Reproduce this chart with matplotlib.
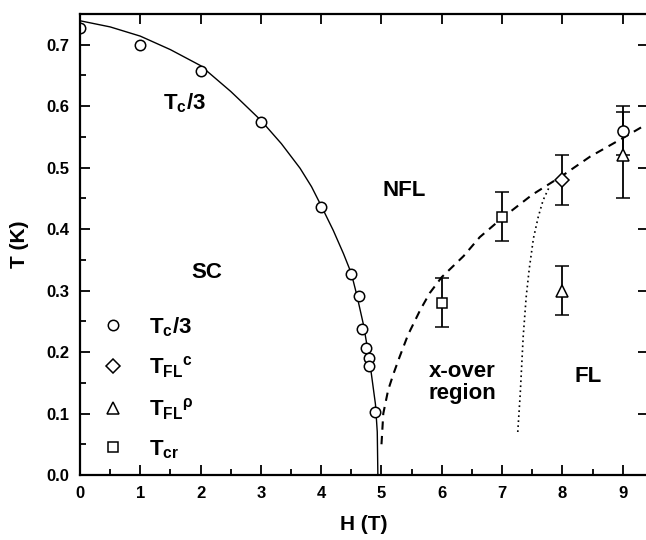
import matplotlib.pyplot as plt
from matplotlib.lines import Line2D
from matplotlib.ticker import MultipleLocator

plt.rcParams['font.family'] = ['Liberation Sans', 'DejaVu Sans']
plt.rcParams['font.weight'] = 'bold'
plt.rcParams['mathtext.fontset'] = 'custom'
plt.rcParams['mathtext.rm'] = 'Liberation Sans:bold'
plt.rcParams['mathtext.it'] = 'Liberation Sans:bold'
plt.rcParams['mathtext.bf'] = 'Liberation Sans:bold'

# Tc/3 points
tc_H = [0, 1, 2, 3, 4, 4.5, 4.62, 4.68, 4.74, 4.79, 4.80, 4.90]
tc_T = [0.728, 0.700, 0.657, 0.575, 0.436, 0.327, 0.291, 0.237, 0.207, 0.190, 0.177, 0.102]

# upper critical field line (solid)
hc2_H = [0, 0.5, 1, 1.5, 2, 2.5, 2.65, 3, 3.34, 3.65, 3.84, 4, 4.2, 4.37, 4.5, 4.59,
         4.7, 4.8, 4.9, 4.93, 4.94]
hc2_T = [0.739, 0.729, 0.714, 0.692, 0.666, 0.624, 0.610, 0.577, 0.539, 0.499, 0.469, 0.438,
         0.398, 0.360, 0.328, 0.293, 0.245, 0.188, 0.115, 0.070, 0.0]

# crossover line (dashed)
cr_line_H = [5.0, 5.03, 5.11, 5.2, 5.3, 5.44, 5.64, 5.8, 6.0, 6.36, 6.63, 7.0, 7.5, 8.0, 8.46, 9.0, 9.42]
cr_line_T = [0.05, 0.10, 0.138, 0.165, 0.192, 0.228, 0.268, 0.296, 0.322, 0.356, 0.387, 0.418,
             0.456, 0.487, 0.518, 0.548, 0.572]

# FL boundary (dotted)
fl_line_H = [7.26, 7.30, 7.35, 7.40, 7.45, 7.52, 7.60, 7.68, 7.78]
fl_line_T = [0.07, 0.13, 0.225, 0.29, 0.335, 0.385, 0.42, 0.447, 0.468]

# T_FL from specific heat
flc_H = [8]
flc_T = [0.48]
flc_err = [0.04]
flc9_H = [9]
flc9_T = [0.56]
flc9_err = [0.04]

# T_FL from resistivity
flr_H = [8, 9]
flr_T = [0.30, 0.52]
flr_err = [0.04, 0.07]

# T_cr
tcr_H = [6, 7]
tcr_T = [0.28, 0.42]
tcr_err = [0.04, 0.04]

fig = plt.figure(figsize=(6.46, 5.40), dpi=100)
ax = fig.add_axes([80 / 646, 65 / 540, 568 / 646, 461 / 540])

ax.plot(hc2_H, hc2_T, color='black', lw=1.0)
ax.plot(cr_line_H, cr_line_T, color='black', lw=1.5, linestyle=(0, (4, 3)))
ax.plot(fl_line_H, fl_line_T, color='black', lw=1.2, linestyle=(0, (1, 2)))

mk = dict(mfc='white', mec='black', mew=1.1, color='black', linestyle='none')
eb = dict(ecolor='black', elinewidth=1.3, capsize=5, capthick=1.3)

ax.plot(tc_H, tc_T, marker='o', ms=7.5, **mk)
ax.errorbar(tcr_H, tcr_T, yerr=tcr_err, marker='s', ms=7.5, **mk, **eb)
ax.errorbar(flr_H, flr_T, yerr=flr_err, marker='^', ms=8, **mk, **eb)
ax.errorbar(flc_H, flc_T, yerr=flc_err, marker='D', ms=7, **mk, **eb)
ax.errorbar(flc9_H, flc9_T, yerr=flc9_err, marker='o', ms=8, **mk, **eb)

ax.set_xlim(0, 9.42)
ax.set_ylim(0, 0.75)
ax.xaxis.set_major_locator(MultipleLocator(1))
ax.xaxis.set_minor_locator(MultipleLocator(0.5))
ax.yaxis.set_major_locator(MultipleLocator(0.1))
ax.yaxis.set_minor_locator(MultipleLocator(0.05))
ax.tick_params(which='both', direction='in', width=1.3)
ax.tick_params(which='major', length=7, labelsize=12, pad=8)
ax.tick_params(which='minor', length=4)
ax.tick_params(which='major', top=True, right=True)
for sp in ax.spines.values():
    sp.set_linewidth(1.6)
for lab in ax.get_xticklabels() + ax.get_yticklabels():
    lab.set_fontweight('bold')
ax.xaxis.set_major_formatter(plt.FuncFormatter(lambda v, p: f'{v:.0f}'))
ax.yaxis.set_major_formatter(plt.FuncFormatter(lambda v, p: f'{v:.1f}'))

ax.set_xlabel('H (T)', fontsize=15, fontweight='bold', labelpad=10)
ax.set_ylabel('T (K)', fontsize=15, fontweight='bold', labelpad=12)

ax.text(1.38, 0.605, r'T$_c$/3', fontsize=16, va='center', ha='left')
ax.text(2.1, 0.33, 'SC', fontsize=16, va='center', ha='center')
ax.text(5.37, 0.463, 'NFL', fontsize=16, va='center', ha='center')
ax.text(6.34, 0.15, 'x-over\nregion', fontsize=16, va='center', ha='center', linespacing=1.05)
ax.text(8.43, 0.161, 'FL', fontsize=16, va='center', ha='center')

handles = [
    Line2D([], [], marker='o', ms=7.5, **mk),
    Line2D([], [], marker='D', ms=7, **mk),
    Line2D([], [], marker='^', ms=8, **mk),
    Line2D([], [], marker='s', ms=7.5, **mk),
]
labels = [r'T$_c$/3', r'T$_{FL}$$^c$', r'T$_{FL}$$^\rho$', r'T$_{cr}$']
ax.legend(handles, labels, loc='upper left', bbox_to_anchor=(0.004, 0.39), frameon=False,
          fontsize=16, handlelength=1.0, handletextpad=1.1, labelspacing=0.72)

fig.savefig('out.png', dpi=100)
